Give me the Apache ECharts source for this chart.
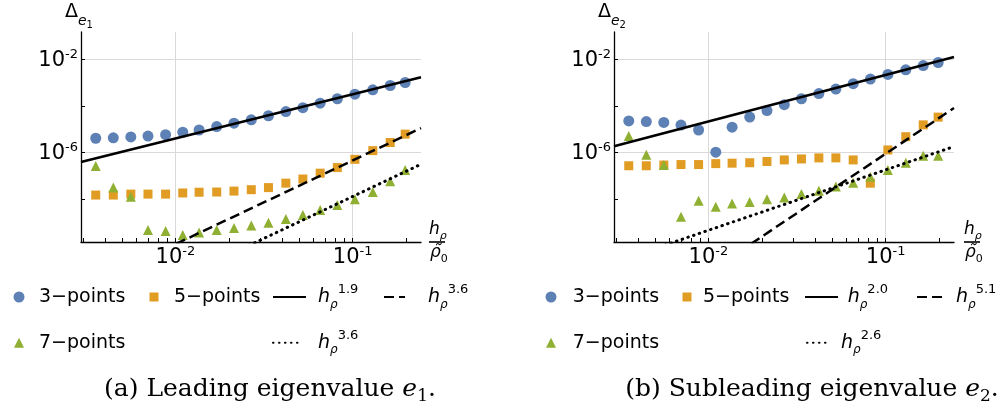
<!DOCTYPE html>
<html><head><meta charset="utf-8">
<script src="https://cdn.jsdelivr.net/npm/echarts@6/dist/echarts.min.js"></script>
<style>html,body{margin:0;padding:0;background:#fff}#c{width:1008px;height:419px}</style>
</head><body><div id="c"></div>
<script>
// ---------- data ----------
const hValues = [0.00355, 0.00446, 0.0056, 0.0070, 0.0088, 0.0110, 0.0136, 0.0171, 0.0214, 0.0268, 0.0335, 0.042, 0.0524, 0.0656, 0.082, 0.103, 0.130, 0.163, 0.198];

const leftThree = [4.2e-6, 4.4e-6, 4.8e-6, 5.2e-6, 6.0e-6, 7.6e-6, 9.5e-6, 1.33e-5, 1.86e-5, 2.6e-5, 3.9e-5, 5.9e-5, 8.7e-5, 1.35e-4, 2.1e-4, 3.3e-4, 5.1e-4, 7.8e-4, 1.05e-3];
const leftFive = [1.51e-8, 1.51e-8, 1.66e-8, 1.66e-8, 1.66e-8, 1.86e-8, 2.0e-8, 2.04e-8, 2.24e-8, 2.57e-8, 3.16e-8, 4.9e-8, 7.4e-8, 1.32e-7, 2.3e-7, 5.2e-7, 1.23e-6, 2.75e-6, 6.3e-6];
const leftSeven = [2.7e-7, 3.16e-8, 1.29e-8, 4.7e-10, 4.3e-10, 2.9e-10, 3.7e-10, 4.7e-10, 5.8e-10, 7.4e-10, 9.8e-10, 1.41e-9, 2.1e-9, 3.4e-9, 5.6e-9, 1.0e-8, 2.04e-8, 6.0e-8, 1.82e-7];

const rightThree = [2.34e-5, 2.2e-5, 2.0e-5, 1.55e-5, 9.5e-6, 1.05e-6, 1.26e-5, 3.4e-5, 6.5e-5, 1.17e-4, 2.1e-4, 3.5e-4, 5.5e-4, 9.3e-4, 1.48e-3, 2.34e-3, 3.7e-3, 5.6e-3, 7.6e-3];
const rightFive = [2.75e-7, 2.75e-7, 2.95e-7, 3.1e-7, 3.1e-7, 3.4e-7, 3.55e-7, 3.7e-7, 4.2e-7, 4.9e-7, 5.4e-7, 6.0e-7, 6.0e-7, 4.9e-7, 4.9e-8, 1.32e-6, 4.9e-6, 1.58e-5, 3.4e-5];
const rightSeven = [5.2e-6, 8.1e-7, 2.95e-7, 1.78e-9, 8.7e-9, 4.8e-9, 6.6e-9, 7.6e-9, 1.0e-8, 1.2e-8, 1.66e-8, 2.34e-8, 3.5e-8, 5.1e-8, 9.3e-8, 1.82e-7, 3.7e-7, 7.4e-7, 7.4e-7];

// power-law fits  C * h^p  (solid, dashed, dotted)
const fitExponentsLeft = [1.9, 3.6, 3.6];
const fitPrefactorsLeft = [0.0261, 1.85e-3, 5.2e-5];
const fitExponentsRight = [2.0, 5.1, 2.6];
const fitPrefactorsRight = [0.222, 0.1135, 7.3e-5];

const pointLabels = ['3\u2212points', '5\u2212points', '7\u2212points'];
const captions = ['(a) Leading eigenvalue ', '(b) Subleading eigenvalue '];
const captionIndex = ['1', '2'];

const xTickValues = [0.003, 0.004, 0.005, 0.006, 0.007, 0.008, 0.009, 0.01, 0.02, 0.03, 0.04, 0.05, 0.06, 0.07, 0.08, 0.09, 0.1, 0.2];
const xLabelValues = [0.01, 0.1];
const yTickValues = [1e-8, 1e-6, 1e-4, 1e-2];
const yLabelValues = [1e-6, 1e-2];

const X_MIN = 0.002931, X_MAX = 0.2432;
const Y_MIN = 1.445e-10, Y_MAX = 0.156;

// ---------- styling ----------
const FONT = 'DejaVu Sans';
const SERIF = 'DejaVu Serif';
const BLUE = '#5E81B5', ORANGE = '#E19C24', GREEN = '#8FB032';
const lineTypes = ['solid', [10, 5], [0.5, 5.5]];
const lineCaps = ['butt', 'butt', 'round'];
const lineWidths = [2.5, 2.5, 3];

const supRich = {
  b: {fontSize: 21, fontFamily: FONT, color: '#000', verticalAlign: 'bottom'},
  e: {fontSize: 13, fontFamily: FONT, color: '#000', verticalAlign: 'bottom', padding: [0, 0, 10, 0]}
};
function powLabel(v) {
  const e = Math.round(Math.log10(v));
  return '{b|10}{e|' + (e < 0 ? '-' : '') + Math.abs(e) + '}';
}

function mainX(g) {
  return {type: 'log', logBase: 10, gridIndex: g, min: X_MIN, max: X_MAX,
    axisLine: {show: true, onZero: false, lineStyle: {color: '#000', width: 1.3}},
    axisTick: {show: true, inside: true, length: 4, customValues: xTickValues, lineStyle: {color: '#000', width: 1}},
    axisLabel: {show: true, customValues: xLabelValues, formatter: powLabel, rich: supRich, margin: 3},
    splitLine: {show: false}};
}
function gridX(g) {
  return {type: 'log', logBase: 10, gridIndex: g, min: X_MIN, max: X_MAX,
    axisLine: {show: false}, axisTick: {show: false, customValues: xLabelValues},
    axisLabel: {show: false}, splitLine: {show: true, lineStyle: {color: '#d9d9d9', width: 1}}};
}
function mainY(g) {
  return {type: 'log', logBase: 10, gridIndex: g, min: Y_MIN, max: Y_MAX,
    axisLine: {show: true, onZero: false, lineStyle: {color: '#000', width: 1.3}},
    axisTick: {show: true, inside: true, length: 4, customValues: yTickValues, lineStyle: {color: '#000', width: 1}},
    axisLabel: {show: true, customValues: yLabelValues, formatter: powLabel, rich: supRich, margin: 3},
    splitLine: {show: false}};
}
function gridY(g) {
  return {type: 'log', logBase: 10, gridIndex: g, min: Y_MIN, max: Y_MAX,
    axisLine: {show: false}, axisTick: {show: false, customValues: yLabelValues},
    axisLabel: {show: false}, splitLine: {show: true, lineStyle: {color: '#d9d9d9', width: 1}}};
}

const series = [];
const legendText = {};
function addPanel(side, axisIdx, three, five, seven, exps, prefs) {
  const sets = [[three, 'circle', 11, BLUE], [five, 'rect', 9, ORANGE], [seven, 'triangle', 10, GREEN]];
  sets.forEach((s, k) => {
    const name = 'p' + k + side;
    legendText[name] = '{t|' + pointLabels[k] + '}';
    series.push({type: 'scatter', name, xAxisIndex: axisIdx, yAxisIndex: axisIdx,
      data: hValues.map((x, i) => [x, s[0][i]]), symbol: s[1], symbolSize: s[2],
      itemStyle: {color: s[3], opacity: 1}, z: 2, silent: true});
  });
  exps.forEach((p, k) => {
    const name = 'f' + k + side;
    legendText[name] = '{h|h}{r|\u03c1}{p|' + p.toFixed(1) + '}';
    const c = prefs[k];
    series.push({type: 'line', name, xAxisIndex: axisIdx, yAxisIndex: axisIdx,
      data: [[X_MIN, c * Math.pow(X_MIN, p)], [X_MAX, c * Math.pow(X_MAX, p)]],
      symbol: 'none', clip: true, z: 3, silent: true, itemStyle: {color: '#000'},
      lineStyle: {color: '#000', width: lineWidths[k], type: lineTypes[k], cap: lineCaps[k]}});
  });
}
addPanel('L', 0, leftThree, leftFive, leftSeven, fitExponentsLeft, fitPrefactorsLeft);
addPanel('R', 2, rightThree, rightFive, rightSeven, fitExponentsRight, fitPrefactorsRight);

const legRich = {
  t: {fontSize: 19, fontFamily: FONT, color: '#000', verticalAlign: 'bottom'},
  h: {fontSize: 19, fontFamily: FONT, fontStyle: 'italic', color: '#000', verticalAlign: 'bottom', padding: [0, 0, 4, 0]},
  r: {fontSize: 12, fontFamily: FONT, fontStyle: 'italic', color: '#000', verticalAlign: 'bottom'},
  p: {fontSize: 13, fontFamily: FONT, color: '#000', verticalAlign: 'bottom', padding: [0, 0, 14, 0]}
};
// symbol legend item: centre cx, symbol size s, text start tx
function legSym(name, cx, cy, s, tx) {
  const left = cx - s / 2;
  return {data: [name], left, top: cy - 9.5, itemWidth: s, itemHeight: s, padding: 0, itemGap: 0,
    selectedMode: false, formatter: n => legendText[n], itemStyle: {opacity: 1},
    textStyle: {fontFamily: FONT, fontSize: 19, color: '#000', padding: [0, 0, 0, tx - (left + s + 5)], rich: legRich}};
}
// line legend item: x0..x1 line, text start tx
function legLine(name, x0, x1, cy, tx) {
  const w = x1 - x0;
  return {data: [name], left: x0, top: cy - 13.5, itemWidth: w, itemHeight: 10, padding: 0, itemGap: 0,
    selectedMode: false, formatter: n => legendText[n], itemStyle: {opacity: 0},
    textStyle: {fontFamily: FONT, fontSize: 19, color: '#000', padding: [0, 0, 0, tx - (x0 + w + 5)], rich: legRich}};
}
const R1 = 297, R2 = 342.7;
const legends = [
  legSym('p0L', 19, R1, 11, 39), legSym('p1L', 154, R1, 9, 174),
  legLine('f0L', 272, 305, R1, 317), legLine('f1L', 383, 404, R1, 427),
  legSym('p2L', 19, R2, 10, 39), legLine('f2L', 272, 302, R2, 317),
  legSym('p0R', 551, R1, 11, 572.7), legSym('p1R', 687, R1, 9, 703),
  legLine('f0R', 804, 837, R1, 846.7), legLine('f1R', 916, 943, R1, 955),
  legSym('p2R', 551, R2, 10, 572.7), legLine('f2R', 806, 828, R2, 840)
];

const deltaRich = {
  d: {fontSize: 19, fontFamily: FONT, color: '#000', verticalAlign: 'bottom', padding: [0, 0, 8, 0]},
  e: {fontSize: 14, fontFamily: FONT, fontStyle: 'italic', color: '#000', verticalAlign: 'bottom', padding: [0, 0, 2, 0]},
  n: {fontSize: 10, fontFamily: FONT, color: '#000', verticalAlign: 'bottom'}
};
const fracRich = {
  a: {fontSize: 17, fontFamily: FONT, fontStyle: 'italic', color: '#000', verticalAlign: 'bottom', padding: [0, 0, 4, 0]},
  s: {fontSize: 11, fontFamily: FONT, fontStyle: 'italic', color: '#000', verticalAlign: 'bottom'},
  z: {fontSize: 11, fontFamily: FONT, color: '#000', verticalAlign: 'bottom'}
};
const capRich = {
  r: {fontSize: 25, fontFamily: SERIF, color: '#000', verticalAlign: 'bottom', padding: [0, 0, 4, 0]},
  i: {fontSize: 25, fontFamily: SERIF, fontStyle: 'italic', color: '#000', verticalAlign: 'bottom', padding: [0, 0, 4, 0]},
  s: {fontSize: 17, fontFamily: SERIF, color: '#000', verticalAlign: 'bottom'}
};
const graphics = [];
[[65, 429, 270, '1'], [598, 964, 812, '2']].forEach((g, k) => {
  graphics.push({type: 'text', left: g[0], top: 3, style: {text: '{d|\u0394}{e|e}{n|' + g[3] + '}', rich: deltaRich}});
  graphics.push({type: 'text', left: g[1], top: 221, style: {text: '{a|h}{s|\u03c1}', rich: fracRich}});
  graphics.push({type: 'line', shape: {x1: g[1], y1: 242, x2: g[1] + 16, y2: 242}, style: {stroke: '#000', lineWidth: 1.6}});
  graphics.push({type: 'text', left: g[1] + 1, top: 244, style: {text: '{a|\u03c1\u0303}{z|0}', rich: fracRich}});
  graphics.push({type: 'text', x: g[2], y: 391, style: {
    text: '{r|' + captions[k] + '}{i|e}{s|' + captionIndex[k] + '}{r|.}', rich: capRich,
    align: 'center', verticalAlign: 'middle', textAlign: 'center', textVerticalAlign: 'middle'}});
});

const chart = echarts.init(document.getElementById('c'));
chart.setOption({
  animation: false,
  backgroundColor: '#fff',
  textStyle: {fontFamily: FONT},
  grid: [
    {left: 81, top: 32, width: 340, height: 210, containLabel: false},
    {left: 614, top: 32, width: 340, height: 210, containLabel: false}
  ],
  xAxis: [mainX(0), gridX(0), mainX(1), gridX(1)],
  yAxis: [mainY(0), gridY(0), mainY(1), gridY(1)],
  legend: legends,
  graphic: graphics,
  series
});
</script></body></html>
